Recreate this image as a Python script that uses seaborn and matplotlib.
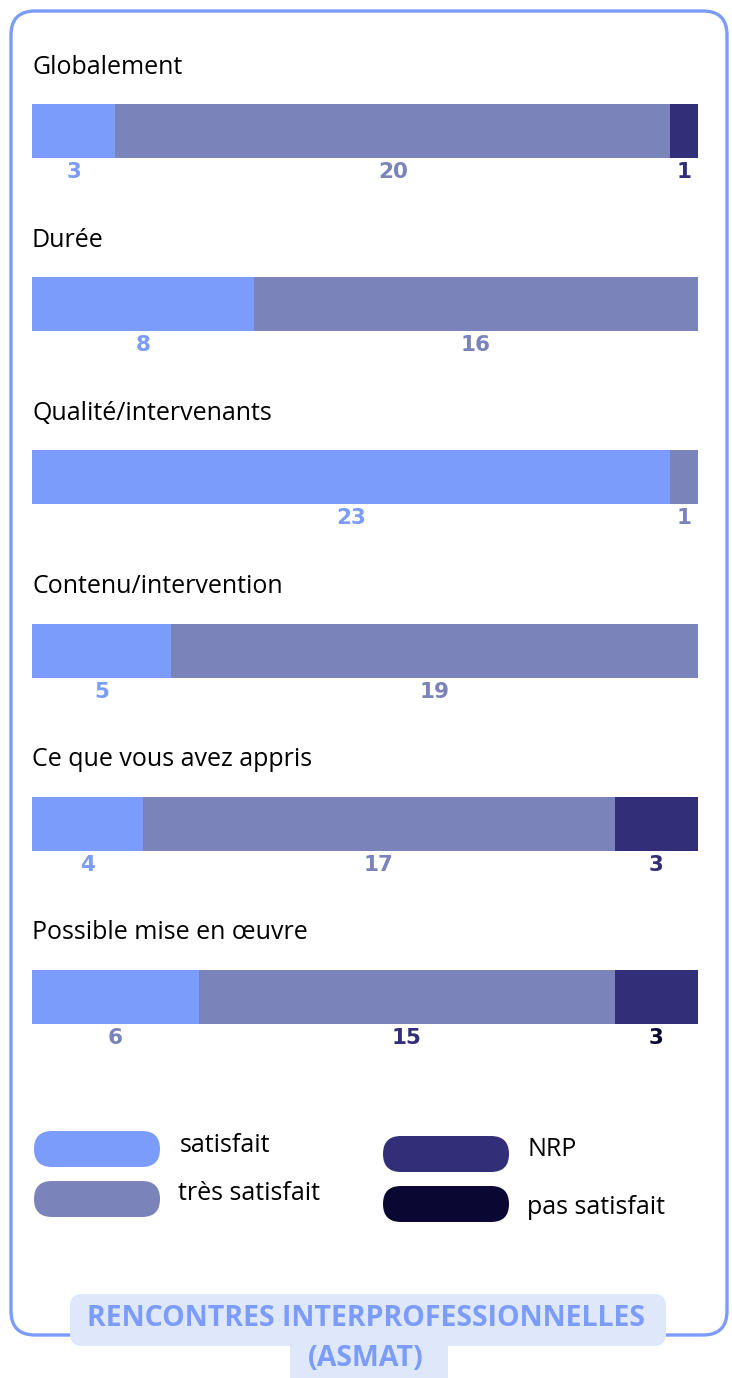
import pandas as pd
import matplotlib.pyplot as plt
import seaborn as sns
from matplotlib.patches import FancyBboxPatch

questions = ['Globalement', 'Durée', 'Qualité/intervenants', 'Contenu/intervention',
             'Ce que vous avez appris', 'Possible mise en œuvre']
satisfait = [3, 8, 23, 5, 4, 6]
tres_satisfait = [20, 16, 1, 19, 17, 15]
nrp = [1, 0, 0, 0, 3, 3]
pas_satisfait = [0, 0, 0, 0, 0, 0]

levels = ['satisfait', 'très satisfait', 'NRP', 'pas satisfait']
colors = ['#7b9cfb', '#7a84ba', '#332e78', '#0a0733']
# colour index used for each value label (as in the source graphic)
label_colors = [[0, 1, 2], [0, 1], [0, 1], [0, 1], [0, 1, 2], [1, 2, 3]]

df = pd.DataFrame({'question': questions, 'satisfait': satisfait,
                   'très satisfait': tres_satisfait, 'NRP': nrp,
                   'pas satisfait': pas_satisfait})
cum = df[levels].cumsum(axis=1)
cum['question'] = df['question']

sns.set_theme(style='white')
plt.rcParams['font.family'] = ['Open Sans', 'DejaVu Sans']

W, H = 732, 1378
fig = plt.figure(figsize=(W / 100, H / 100), dpi=100)

# background layer in pixel coordinates
bg = fig.add_axes([0, 0, 1, 1])
bg.set_xlim(0, W)
bg.set_ylim(H, 0)
bg.axis('off')

bg.add_patch(FancyBboxPatch((11, 11), 716, 1324, boxstyle='round,pad=0,rounding_size=24',
                            fc='none', ec='#7b9cfb', lw=2.4))

# bar axes
top_px, bot_px = 0, 1090
row0, step = 131, 173.2
ax = fig.add_axes([32 / W, 1 - bot_px / H, 666 / W, (bot_px - top_px) / H])
ax.set_facecolor('none')

for lev, col in reversed(list(zip(levels, colors))):
    sns.barplot(data=cum, x=lev, y='question', orient='h', color=col,
                width=54 / step, saturation=1, linewidth=0, ax=ax)

ax.set_xlim(0, 24)
ax.set_ylim((bot_px - row0) / step, (top_px - row0) / step)
ax.axis('off')

for i, q in enumerate(questions):
    ax.text(0.0, i - 64 / step, q, fontsize=18, color='black', va='center', ha='left')
    start = 0
    k = 0
    for lev in levels:
        v = df.loc[i, lev]
        if v > 0:
            ax.text(start + v / 2, i + 41 / step, str(v), fontsize=15.5, fontweight='bold',
                    family=['DejaVu Sans'],
                    color=colors[label_colors[i][k]], ha='center', va='center')
            k += 1
        start += v

# legend
legend_items = [(34, 1149, 180, 1145, 0), (34, 1199, 178, 1194, 1),
                (383, 1154, 527, 1150, 2), (383, 1204, 527, 1207, 3)]
for px, py, tx, ty, c in legend_items:
    bg.add_patch(FancyBboxPatch((px, py - 18), 126, 36,
                                boxstyle='round,pad=0,rounding_size=18',
                                fc=colors[c], ec='none'))
    bg.text(tx, ty, levels[c], fontsize=18, color='black', va='center', ha='left')

# title box
bg.add_patch(FancyBboxPatch((70, 1294), 596, 52, boxstyle='round,pad=0,rounding_size=12',
                            fc='#dfe7fb', ec='none'))
bg.add_patch(FancyBboxPatch((290, 1330), 158, 60, boxstyle='round,pad=0,rounding_size=12',
                            fc='#dfe7fb', ec='none'))
bg.text(366, 1318, 'RENCONTRES INTERPROFESSIONNELLES', fontsize=20.5, fontweight='bold',
        color='#7b9cfb', ha='center', va='center')
bg.text(366, 1359, '(ASMAT)', fontsize=20.5, fontweight='bold',
        color='#7b9cfb', ha='center', va='center')

fig.savefig('out.png', dpi=100, facecolor='white')
